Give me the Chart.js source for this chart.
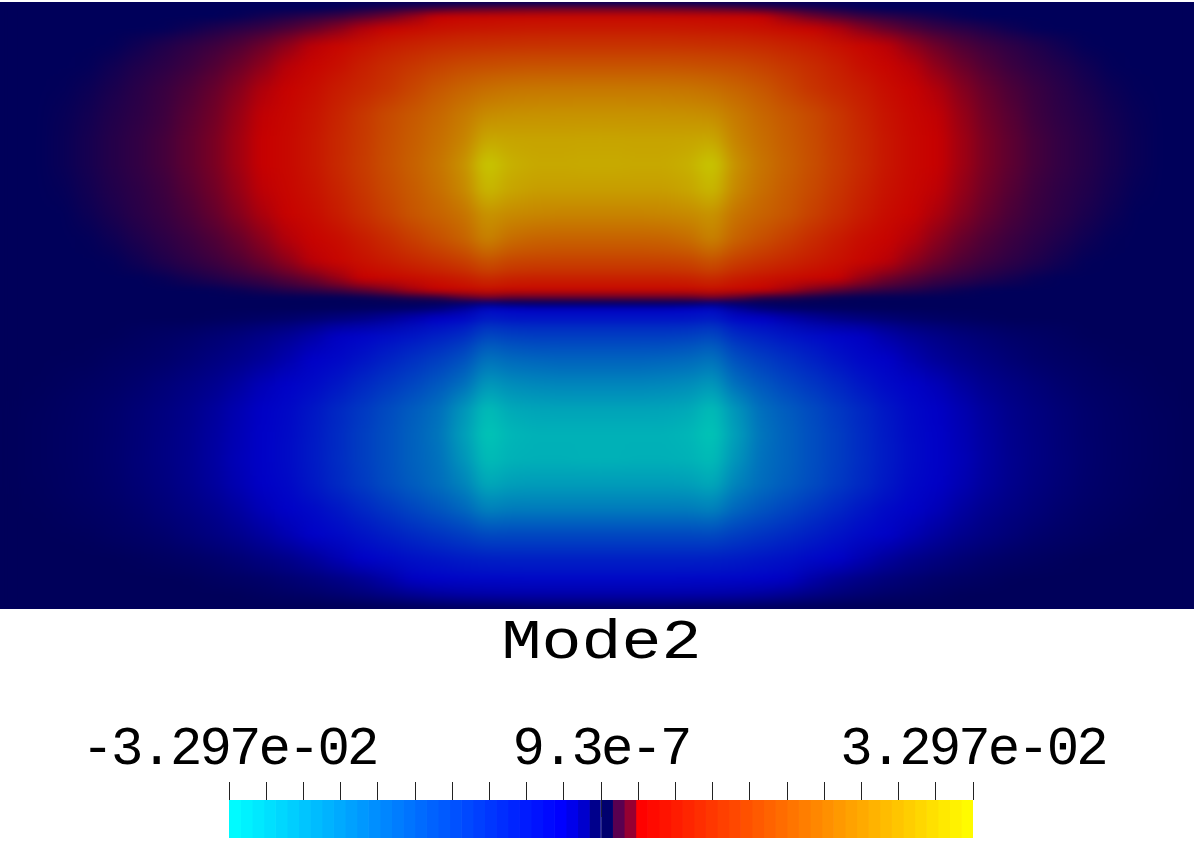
<!DOCTYPE html>
<html><head><meta charset="utf-8">
<script src="https://cdn.jsdelivr.net/npm/chart.js@4/dist/chart.umd.min.js"></script>
<style>
html,body{margin:0;padding:0;background:#fff;overflow:hidden}
#heatWrap{position:absolute;left:0;top:2px;width:1194px;height:607px;overflow:hidden;background:rgb(0,0,90)}
#heat{position:absolute;left:0;top:-2px;filter:url(#soft)}
#bar{position:absolute;left:0;top:608px}
</style></head><body>
<svg width="0" height="0" style="position:absolute"><filter id="soft" color-interpolation-filters="sRGB" x="-2%" y="-2%" width="104%" height="104%"><feGaussianBlur stdDeviation="9 2.5"/></filter></svg>
<div id="heatWrap"><canvas id="heat" width="1200" height="608"></canvas></div>
<canvas id="bar" width="1194" height="235"></canvas>
<script>
const titleText = 'Mode2';
const tickLabels = ['-3.297e-02', '9.3e-7', '3.297e-02'];
const colCentres = [12.5,37.5,62.5,87.5,112.5,137.5,162.5,187.5,212.5,237.5,262.5,287.5,312.5,337.5,362.5,387.5,412.5,437.5,462.5,487.5,512.5,537.5,562.5,587.5,612.5,637.5,662.5,687.5,712.5,737.5,762.5,787.5,812.5,837.5,862.5,887.5,912.5,937.5,962.5,987.5,1012.5,1037.5,1062.5,1087.5,1112.5,1137.5,1162.5,1187.5];
const rowEdges = [0,5,12,22,36,55,77,102,127,152,177,202,227,251,271,285,294,300,306,313,326,347,372,397,422,447,472,497,522,547,570,587,600,608];
// field values, thousandths of the colour-bar maximum
const fieldRows = [
[0,0,0,0,0,0,0,0,0,0,0,0,0,0,0,0,0,0,0,0,0,0,0,0,0,0,0,0,0,0,0,0,0,0,0,0,0,0,0,0,0,0,0,0,0,0,0,0],
[0,0,0,0,0,0,0,0,0,0,0,0,0,3,9,15,22,30,38,42,46,48,50,50,50,50,48,46,42,38,30,22,15,9,3,0,0,0,0,0,0,0,0,0,0,0,0,0],
[0,0,0,0,0,0,0,0,0,3,9,15,22,29,40,53,72,94,110,120,125,130,130,130,130,130,130,125,120,110,94,72,53,40,29,22,15,9,3,0,0,0,0,0,0,0,0,0],
[0,0,0,0,0,0,1,6,13,20,26,36,48,64,84,108,140,165,185,195,205,210,210,210,210,210,210,205,195,185,165,140,108,84,64,48,36,26,20,13,6,1,0,0,0,0,0,0],
[0,0,0,0,1,7,14,21,28,37,50,67,88,115,165,215,250,280,300,310,315,320,320,320,320,320,320,315,310,300,280,250,215,165,115,88,67,50,37,28,21,14,7,1,0,0,0,0],
[0,0,0,1,7,14,20,27,37,50,66,87,112,160,230,290,340,390,430,450,465,470,470,470,470,470,470,465,450,430,390,340,290,230,160,112,87,66,50,37,27,20,14,7,1,0,0,0],
[0,0,1,5,12,19,26,35,47,63,83,105,148,215,270,330,410,490,550,600,625,635,640,640,640,640,635,625,600,550,490,410,330,270,215,148,105,83,63,47,35,26,19,12,5,1,0,0],
[0,0,3,8,15,21,28,40,52,71,91,122,175,255,340,425,490,560,640,730,750,755,760,760,760,760,755,750,730,640,560,490,425,340,255,175,122,91,71,52,40,28,21,15,8,3,0,0],
[0,0,4,10,17,23,31,43,56,75,96,130,190,270,350,440,515,590,680,860,840,835,835,840,840,835,835,840,860,680,590,515,440,350,270,190,130,96,75,56,43,31,23,17,10,4,0,0],
[0,0,4,10,17,23,31,43,56,75,96,130,190,275,360,450,530,620,740,1000,890,860,860,870,870,860,860,890,1000,740,620,530,450,360,275,190,130,96,75,56,43,31,23,17,10,4,0,0],
[0,0,2,8,15,21,28,39,52,70,90,120,170,250,335,425,505,590,700,930,840,810,810,810,810,810,810,840,930,700,590,505,425,335,250,170,120,90,70,52,39,28,21,15,8,2,0,0],
[0,0,0,5,12,19,25,34,46,62,81,105,145,215,300,385,475,540,610,770,720,700,690,690,690,690,700,720,770,610,540,475,385,300,215,145,105,81,62,46,34,25,19,12,5,0,0,0],
[0,0,0,1,6,13,20,27,36,48,65,85,108,150,215,290,370,450,530,680,580,545,540,540,540,540,545,580,680,530,450,370,290,215,150,108,85,65,48,36,27,20,13,6,1,0,0,0],
[0,0,0,0,1,7,14,21,28,37,50,67,88,115,165,215,265,315,370,470,410,395,390,390,390,390,395,410,470,370,315,265,215,165,115,88,67,50,37,28,21,14,7,1,0,0,0,0],
[0,0,0,0,0,0,3,9,15,22,29,40,53,72,94,122,150,180,220,290,250,240,240,240,240,240,240,250,290,220,180,150,122,94,72,53,40,29,22,15,9,3,0,0,0,0,0,0],
[0,0,0,0,0,0,0,0,1,5,11,18,24,32,45,60,80,100,125,160,135,130,130,130,130,130,130,135,160,125,100,80,60,45,32,24,18,11,5,1,0,0,0,0,0,0,0,0],
[0,0,0,0,0,0,0,0,0,0,0,0,0,0,3,9,17,23,45,60,50,50,50,50,50,50,50,50,60,45,23,17,9,3,0,0,0,0,0,0,0,0,0,0,0,0,0,0],
[0,0,0,0,0,0,0,0,0,0,0,0,0,0,0,0,-1,-3,-10,-25,-8,-6,-5,-5,-5,-5,-6,-8,-25,-10,-3,-1,0,0,0,0,0,0,0,0,0,0,0,0,0,0,0,0],
[0,0,0,0,0,0,0,0,0,0,0,-1,-2,-4,-7,-11,-17,-30,-60,-130,-100,-90,-90,-90,-90,-90,-90,-100,-130,-60,-30,-17,-11,-7,-4,-2,-1,0,0,0,0,0,0,0,0,0,0,0],
[0,0,0,0,0,0,0,0,-3,-6,-10,-15,-23,-32,-42,-56,-75,-98,-125,-220,-195,-190,-190,-190,-190,-190,-190,-195,-220,-125,-98,-75,-56,-42,-32,-23,-15,-10,-6,-3,0,0,0,0,0,0,0,0],
[0,0,0,0,-1,-5,-9,-13,-20,-28,-38,-50,-67,-90,-112,-150,-190,-240,-290,-420,-385,-370,-370,-370,-370,-370,-370,-385,-420,-290,-240,-190,-150,-112,-90,-67,-50,-38,-28,-20,-13,-9,-5,-1,0,0,0,0],
[0,0,-1,-2,-6,-10,-14,-22,-31,-41,-54,-72,-95,-125,-180,-245,-310,-370,-450,-620,-570,-550,-540,-540,-540,-540,-550,-570,-620,-450,-370,-310,-245,-180,-125,-95,-72,-54,-41,-31,-22,-14,-10,-6,-2,-1,0,0],
[0,-1,-4,-7,-11,-17,-25,-34,-44,-60,-80,-100,-135,-195,-270,-340,-410,-490,-590,-790,-730,-710,-700,-700,-700,-700,-710,-730,-790,-590,-490,-410,-340,-270,-195,-135,-100,-80,-60,-44,-34,-25,-17,-11,-7,-4,-1,0],
[-1,-3,-6,-10,-15,-23,-31,-41,-55,-74,-92,-125,-190,-270,-350,-430,-510,-590,-760,-950,-860,-840,-835,-835,-835,-835,-840,-860,-950,-760,-590,-510,-430,-350,-270,-190,-125,-92,-74,-55,-41,-31,-23,-15,-10,-6,-3,-1],
[-1,-4,-7,-11,-16,-24,-33,-43,-59,-78,-98,-135,-205,-285,-370,-450,-530,-620,-800,-990,-920,-900,-900,-900,-900,-900,-900,-920,-990,-800,-620,-530,-450,-370,-285,-205,-135,-98,-78,-59,-43,-33,-24,-16,-11,-7,-4,-1],
[-1,-4,-7,-11,-17,-25,-34,-44,-60,-80,-100,-140,-210,-290,-370,-450,-530,-600,-760,-950,-900,-890,-890,-900,-900,-890,-890,-900,-950,-760,-600,-530,-450,-370,-290,-210,-140,-100,-80,-60,-44,-34,-25,-17,-11,-7,-4,-1],
[-1,-3,-6,-10,-15,-23,-31,-42,-56,-75,-93,-128,-195,-275,-355,-435,-510,-580,-680,-860,-810,-800,-800,-800,-800,-800,-800,-810,-860,-680,-580,-510,-435,-355,-275,-195,-128,-93,-75,-56,-42,-31,-23,-15,-10,-6,-3,-1],
[0,-1,-4,-7,-11,-17,-25,-34,-44,-60,-80,-100,-135,-195,-265,-335,-405,-470,-550,-680,-650,-650,-650,-650,-650,-650,-650,-650,-680,-550,-470,-405,-335,-265,-195,-135,-100,-80,-60,-44,-34,-25,-17,-11,-7,-4,-1,0],
[0,0,-1,-3,-7,-11,-16,-24,-33,-43,-58,-76,-98,-130,-180,-230,-280,-325,-370,-430,-420,-420,-420,-420,-420,-420,-420,-420,-430,-370,-325,-280,-230,-180,-130,-98,-76,-58,-43,-33,-24,-16,-11,-7,-3,-1,0,0],
[0,0,0,0,0,-3,-6,-10,-15,-23,-32,-42,-56,-75,-98,-130,-165,-190,-215,-235,-240,-240,-240,-240,-240,-240,-240,-240,-235,-215,-190,-165,-130,-98,-75,-56,-42,-32,-23,-15,-10,-6,-3,0,0,0,0,0],
[0,0,0,0,0,0,0,-1,-5,-9,-13,-20,-28,-38,-50,-67,-90,-105,-118,-125,-128,-130,-130,-130,-130,-130,-130,-128,-125,-118,-105,-90,-67,-50,-38,-28,-20,-13,-9,-5,-1,0,0,0,0,0,0,0],
[0,0,0,0,0,0,0,0,0,-1,-5,-9,-13,-20,-28,-38,-50,-60,-66,-68,-70,-70,-70,-70,-70,-70,-70,-70,-68,-66,-60,-50,-38,-28,-20,-13,-9,-5,-1,0,0,0,0,0,0,0,0,0],
[0,0,0,0,0,0,0,0,0,0,0,0,0,-1,-3,-6,-10,-14,-18,-20,-22,-25,-25,-25,-25,-25,-25,-22,-20,-18,-14,-10,-6,-3,-1,0,0,0,0,0,0,0,0,0,0,0,0,0]
];
// colour stops: [fraction of max, r, g, b]
const scenePositive = [[0,0,0,115],[0.094,255,0,0],[1,255,255,0]];
const sceneNegative = [[0,0,0,115],[0.094,0,0,255],[1,0,255,232]];
const barPositive = [[0,0,0,115],[0.0156,0,0,110],[0.047,90,0,80],[0.078,150,0,50],[0.105,255,0,0],[1,255,255,0]];
const barNegative = [[0,0,0,115],[0.0156,0,0,140],[0.047,0,0,205],[0.078,0,0,235],[0.109,0,0,255],[1,0,255,255]];
const sceneShade = 0.78;
const barSegments = 64;

function lookup(stops,t){
  const a=Math.min(Math.abs(t),1);
  for(let i=1;i<stops.length;i++){
    if(a<=stops[i][0]){
      const p=stops[i-1],q=stops[i],f=(a-p[0])/(q[0]-p[0]);
      return [p[1]+(q[1]-p[1])*f,p[2]+(q[2]-p[2])*f,p[3]+(q[3]-p[3])*f];
    }
  }
  return stops[stops.length-1].slice(1);
}
const css=c=>`rgb(${c.map(v=>Math.round(v)).join(',')})`;
const shadeColour=v=>lookup(v>=0?scenePositive:sceneNegative,v/1000).map(x=>x*sceneShade);
const mean=(a,b)=>a.map((x,i)=>(x+b[i])/2);

function cellFill(ctx){
  const r=ctx.datasetIndex,c=ctx.dataIndex,row=fieldRows[r];
  if(!row) return 'rgba(0,0,0,0)';
  const me=shadeColour(row[c]);
  const area=ctx.chart.chartArea;
  if(!area) return css(me);
  const up=fieldRows[r-1]?shadeColour(fieldRows[r-1][c]):me;
  const dn=fieldRows[r+1]?shadeColour(fieldRows[r+1][c]):me;
  const y=ctx.chart.scales.y;
  const g=ctx.chart.ctx.createLinearGradient(0,y.getPixelForValue(rowEdges[r]),0,y.getPixelForValue(rowEdges[r+1]));
  g.addColorStop(0,css(mean(up,me)));
  g.addColorStop(0.5,css(me));
  g.addColorStop(1,css(mean(dn,me)));
  return g;
}

new Chart(document.getElementById('heat'),{
  type:'bar',
  data:{labels:colCentres,datasets:fieldRows.map((row,r)=>({
    label:'row'+r,
    data:row.map(()=>[rowEdges[r],rowEdges[r+1]]),
    backgroundColor:cellFill,borderWidth:0,
    barPercentage:1,categoryPercentage:1,grouped:false
  }))},
  options:{responsive:false,animation:false,layout:{padding:0},
    plugins:{legend:{display:false},title:{display:false},tooltip:{enabled:false}},
    scales:{x:{display:false},y:{display:false,min:0,max:608,reverse:true}}}
});

const monoFont='"Liberation Mono",monospace';
const segs=Array.from({length:barSegments},(_,k)=>k);
const textSpacing={id:'textSpacing',beforeDraw(ch){
  const c=ch.ctx;
  c.letterSpacing='-2.9px';
  const tb=ch.titleBlock;
  if(tb&&!tb._wide){
    const d=tb.draw.bind(tb);
    tb.draw=function(){
      const mid=ch.width/2+1;
      c.save();c.letterSpacing='0px';c.translate(mid,0);c.scale(1.19,1);c.translate(-mid,0);d();c.restore();
    };
    tb._wide=true;
  }
}};
const zeroTick={id:'zeroTick',afterDatasetsDraw(ch){
  const s=ch.scales.x,c=ch.ctx,x=Math.round(s.getPixelForValue(0))+0.5;
  c.save();c.strokeStyle='rgb(30,30,60)';c.lineWidth=1;c.beginPath();c.moveTo(x,ch.chartArea.top);c.lineTo(x,ch.chartArea.top+17);c.stroke();c.restore();
}};
new Chart(document.getElementById('bar'),{
  type:'bar',
  plugins:[textSpacing,zeroTick],
  data:{labels:['scale'],datasets:segs.map(k=>{
    const t=(k+0.5)/32-1;
    return {
      label:'s'+k,
      data:[[k/32-1,(k+1)/32-1]],
      backgroundColor:css(lookup(t>=0?barPositive:barNegative,t)),
      borderWidth:0,barPercentage:1,categoryPercentage:1,grouped:false
    };
  })},
  options:{responsive:false,animation:false,indexAxis:'y',
    layout:{padding:{left:229,right:221,top:0,bottom:5}},
    plugins:{legend:{display:false},tooltip:{enabled:false},
      title:{display:true,text:titleText,color:'#000',padding:{top:2,bottom:0},font:{family:monoFont,size:56,lineHeight:1.2,weight:'normal'}}},
    scales:{
      y:{display:false},
      x:{type:'linear',position:'top',min:-1,max:1,
        afterFit(s){s.height=122.8;},
        border:{display:false},
        grid:{drawOnChartArea:false,drawTicks:true,tickLength:18,color:'#222',lineWidth:1},
        ticks:{stepSize:0.1,autoSkip:false,maxRotation:0,minRotation:0,padding:0,color:'#000',
          font:{family:monoFont,size:54},
          callback(v,i){return i===0?tickLabels[0]:i===10?tickLabels[1]:i===20?tickLabels[2]:'';}}
      }
    }
  }
});
</script>
</body></html>
